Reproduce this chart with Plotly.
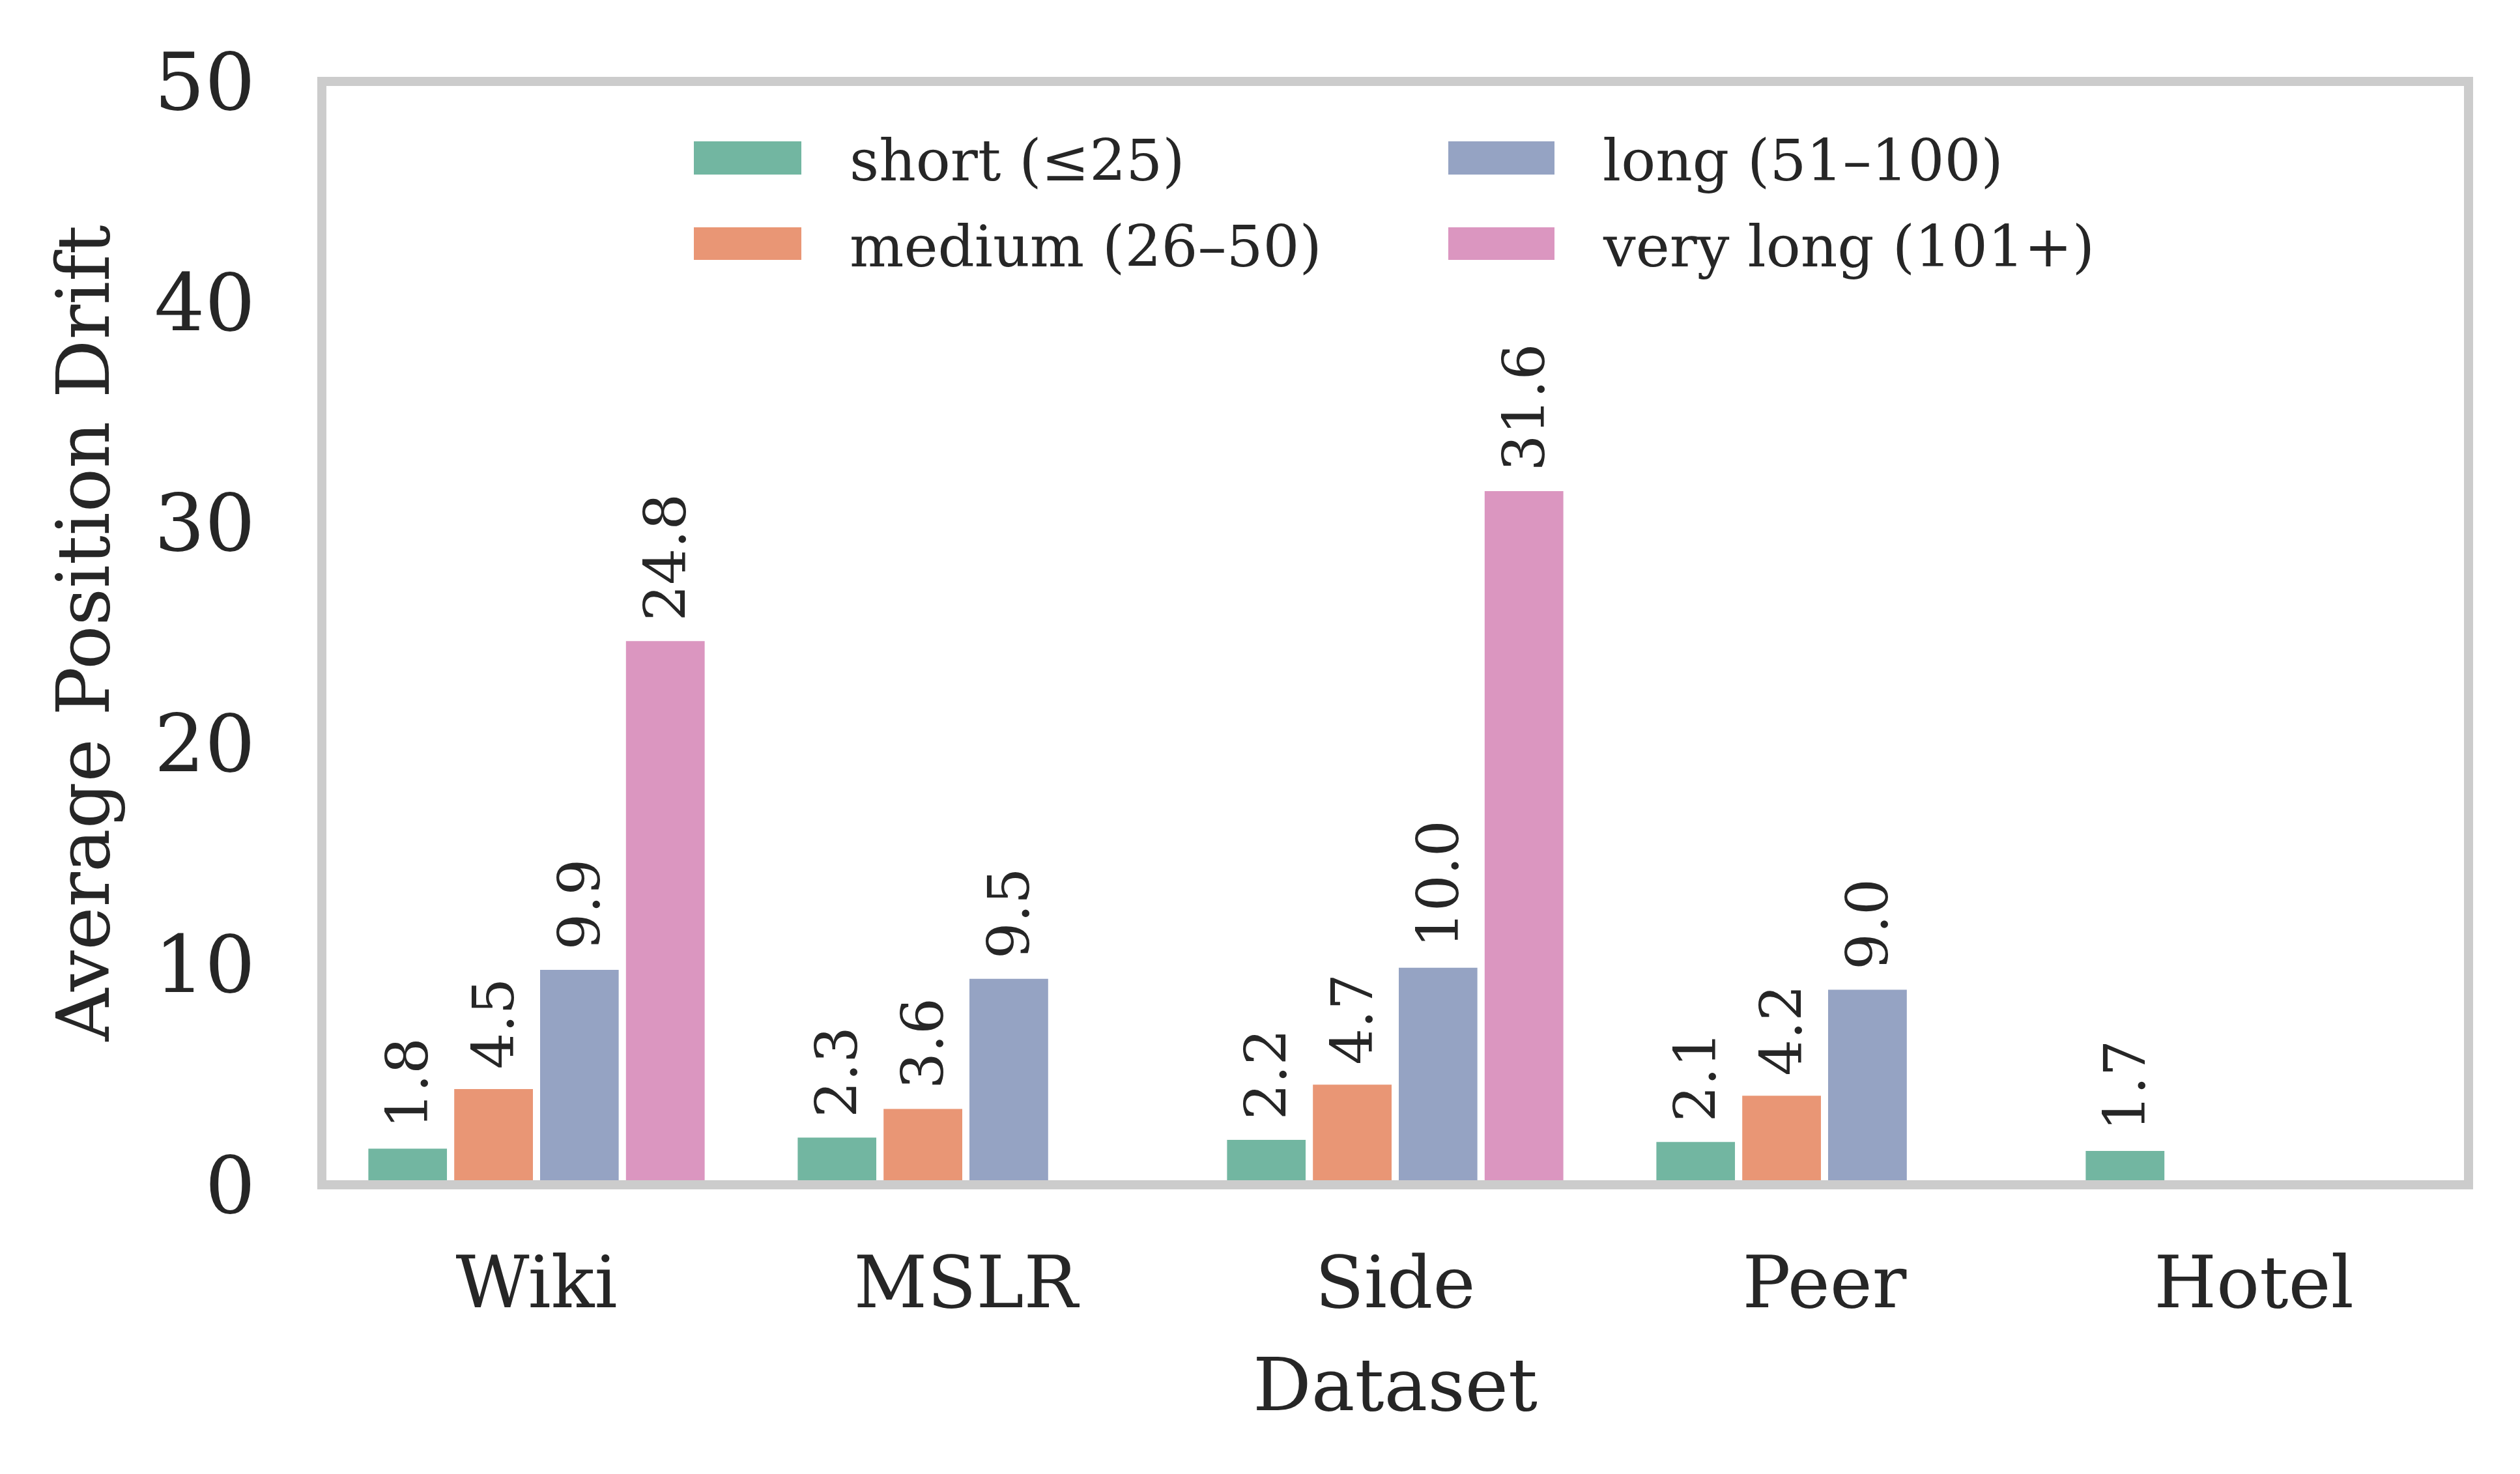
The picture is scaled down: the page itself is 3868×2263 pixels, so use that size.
import plotly.graph_objects as go

# ---- data ----
datasets = ["Wiki", "MSLR", "Side", "Peer", "Hotel"]
series_names = ["short (≤25)", "medium (26–50)", "long (51–100)", "very long (101+)"]
short_vals = [1.8, 2.3, 2.2, 2.1, 1.7]
medium_vals = [4.5, 3.6, 4.7, 4.2, None]
long_vals = [9.9, 9.5, 10.0, 9.0, None]
very_long_vals = [24.8, None, 31.6, None, None]
y_ticks = [0, 10, 20, 30, 40, 50]

series_values = [short_vals, medium_vals, long_vals, very_long_vals]
colors = ["#72b6a1", "#e99675", "#95a3c3", "#db96c0"]

FONT = "DejaVu Serif"
TXT = "#262626"
W, H = 3868, 2263
L, R, T, B = 494, 79, 125, 444

fig = go.Figure()
for name, vals, col in zip(series_names, series_values, colors):
    labels = ["\u2005" + f"{v:.1f}" if v is not None else "" for v in vals]
    fig.add_trace(go.Bar(
        x=datasets, y=vals, name=name,
        marker=dict(color=col, line=dict(color="white", width=11)),
        text=labels, textposition="outside", textangle=-90,
        textfont=dict(family=FONT, size=88, color=TXT),
        constraintext="none", cliponaxis=False,
        showlegend=False,
    ))

# frame around the plot area (matplotlib-style spines, centred on the edges)
shapes = [dict(type="rect", xref="paper", yref="paper", x0=0, x1=1, y0=0, y1=1,
               line=dict(color="#cccccc", width=14), fillcolor="rgba(0,0,0,0)", layer="above")]

# manual legend (two columns, column-major like matplotlib ncol=2)
def px_x(X):
    return (X - L) / (W - L - R)

def px_y(Y):
    return (H - B - Y) / (H - T - B)

patch_x = [(1065, 1230), (1065, 1230), (2223, 2386), (2223, 2386)]
patch_y = [(217, 268), (349, 399), (217, 268), (349, 399)]
text_x = [1302, 1302, 2458, 2458]
annotations = []
for name, col, (xa, xb), (ya, yb), tx in zip(series_names, colors, patch_x, patch_y, text_x):
    shapes.append(dict(type="rect", xref="paper", yref="paper",
                       x0=px_x(xa), x1=px_x(xb), y0=px_y(yb), y1=px_y(ya),
                       line=dict(width=0), fillcolor=col, layer="above"))
    annotations.append(dict(xref="paper", yref="paper", x=px_x(tx), y=px_y((ya + yb) / 2 + 4),
                            text=name, showarrow=False, xanchor="left", yanchor="middle",
                            font=dict(family=FONT, size=88, color=TXT)))

fig.update_layout(
    width=W, height=H,
    margin=dict(l=L, r=R, t=T, b=B, autoexpand=False),
    paper_bgcolor="white", plot_bgcolor="white",
    barmode="group", bargap=0.2, bargroupgap=0.0,
    font=dict(family=FONT, color=TXT),
    shapes=shapes, annotations=annotations,
    xaxis=dict(
        type="category", range=[-0.5, 4.5], showgrid=False, showline=False, zeroline=False,
        ticks="", tickfont=dict(family=FONT, size=110, color=TXT), ticklabelstandoff=77,
        title=dict(text="Dataset", font=dict(family=FONT, size=112, color=TXT), standoff=54),
    ),
    yaxis=dict(
        range=[0, 50], tickvals=y_ticks, showgrid=False, showline=False, zeroline=False,
        ticks="", tickfont=dict(family=FONT, size=122, color=TXT), ticklabelstandoff=101,
        title=dict(text="Average Position Drift", font=dict(family=FONT, size=112, color=TXT), standoff=31),
    ),
)

fig.write_html("out.html", config={"displayModeBar": False},
               post_script="document.body.style.margin='0';")
